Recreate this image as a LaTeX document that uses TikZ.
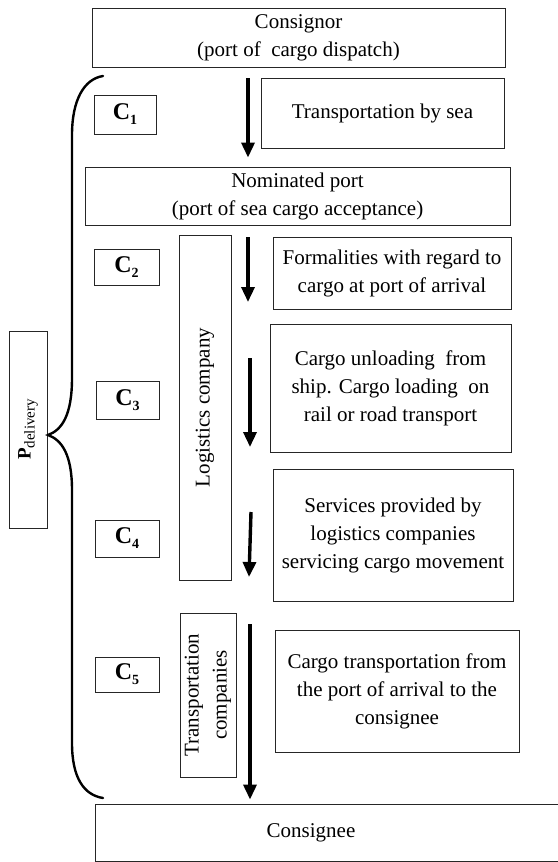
\documentclass[tikz,border=0pt]{standalone}
\usepackage{fontspec}
\setmainfont{Liberation Serif}
\usetikzlibrary{arrows.meta}
% stage label: bold C with a bold subscript index
\newcommand\stagelabel[1]{\textbf{\fontsize{24}{24}\selectfont C\raisebox{-5pt}{\fontsize{14}{14}\selectfont #1}}}
\begin{document}
\begin{tikzpicture}[x=1pt,y=-1pt,
  box/.style={draw=black!85, line width=0.9pt, inner sep=0pt, align=center,
              font=\fontsize{21}{28}\selectfont},
  cbox/.style={draw=black!85, line width=0.9pt, inner sep=0pt},
  flow/.style={line width=3.4pt, -{Triangle[width=13pt,length=15pt]}},
  brace/.style={line width=2.4pt, line cap=round}]
\useasboundingbox (0,0) rectangle (557,862);

% main chain of places
\node[box, minimum width=413, minimum height=59] (consignor) at (298.5,37.5)
  {Consignor\\(port of\ \ cargo dispatch)};
\node[box, minimum width=425, minimum height=58] (nominated) at (297.5,196)
  {Nominated port\\(port of sea cargo acceptance)};
\node[box, minimum width=490, minimum height=57] (consignee) at (340,832.5)
  {\hspace*{-58pt}Consignee};

% description of each stage
\node[box, minimum width=243, minimum height=70] (sea) at (382.5,113)
  {Transportation by sea};
\node[box, minimum width=238, minimum height=72] (formal) at (392,273)
  {Formalities with regard to\\cargo at port of arrival};
\node[box, minimum width=241, minimum height=128] (unload) at (390.5,388)
  {Cargo unloading\ \ from\\ship. Cargo loading\ \ on\\rail or road transport};
\node[box, minimum width=240, minimum height=132] (services) at (393,535)
  {Services provided by\\logistics companies\\servicing cargo movement};
\node[box, minimum width=244, minimum height=122] (cargotr) at (397,691)
  {Cargo transportation from\\the port of arrival to the\\consignee};

% participants (vertical captions)
\node[box, rotate=90, minimum width=345, minimum height=52] (logistics) at (205,407.5)
  {Logistics company};
\node[box, rotate=90, minimum width=164, minimum height=56] (transp) at (208,695)
  {Transportation\\companies};

% stage cost labels
\node[cbox, minimum width=62, minimum height=39] (c1) at (125,114.5) {\stagelabel{1}};
\node[cbox, minimum width=65, minimum height=36] (c2) at (126.5,267) {\stagelabel{2}};
\node[cbox, minimum width=63, minimum height=38] (c3) at (127.5,400) {\stagelabel{3}};
\node[cbox, minimum width=64, minimum height=37] (c4) at (127,538.5) {\stagelabel{4}};
\node[cbox, minimum width=64, minimum height=35] (c5) at (127,674.5) {\stagelabel{5}};

% total delivery price
\node[cbox, rotate=90, minimum width=197, minimum height=38] (pdel) at (28,429.5)
  {{\fontsize{19}{19}\selectfont\textbf{P}}\raisebox{-4pt}{\fontsize{15}{15}\selectfont delivery}};

% flow arrows
\coordinate (ax1) at (248,0);
\coordinate (s2) at (248,237); \coordinate (e2) at (248,302);
\coordinate (s3) at (250,358); \coordinate (e3) at (250,447);
\coordinate (s4) at (251,512); \coordinate (e4) at (249,577);
\coordinate (s5) at (250,624);
\draw[flow, shorten <=11pt, shorten >=9pt] (consignor.south -| ax1) -- (nominated.north -| ax1);
\draw[flow] (s2) -- (e2);
\draw[flow] (s3) -- (e3);
\draw[flow] (s4) -- (e4);
\draw[flow, shorten >=4pt] (s5) -- (consignee.north -| s5);

% curly brace gathering the stages
\draw[brace] (103,76) .. controls (84,79) and (72,100) .. (72,135)
  -- (72,378) .. controls (72,415) and (62,430) .. (48,435)
  .. controls (62,440) and (72,455) .. (72,490)
  -- (72,743) .. controls (72,778) and (84,795) .. (103,798);
\end{tikzpicture}
\end{document}
